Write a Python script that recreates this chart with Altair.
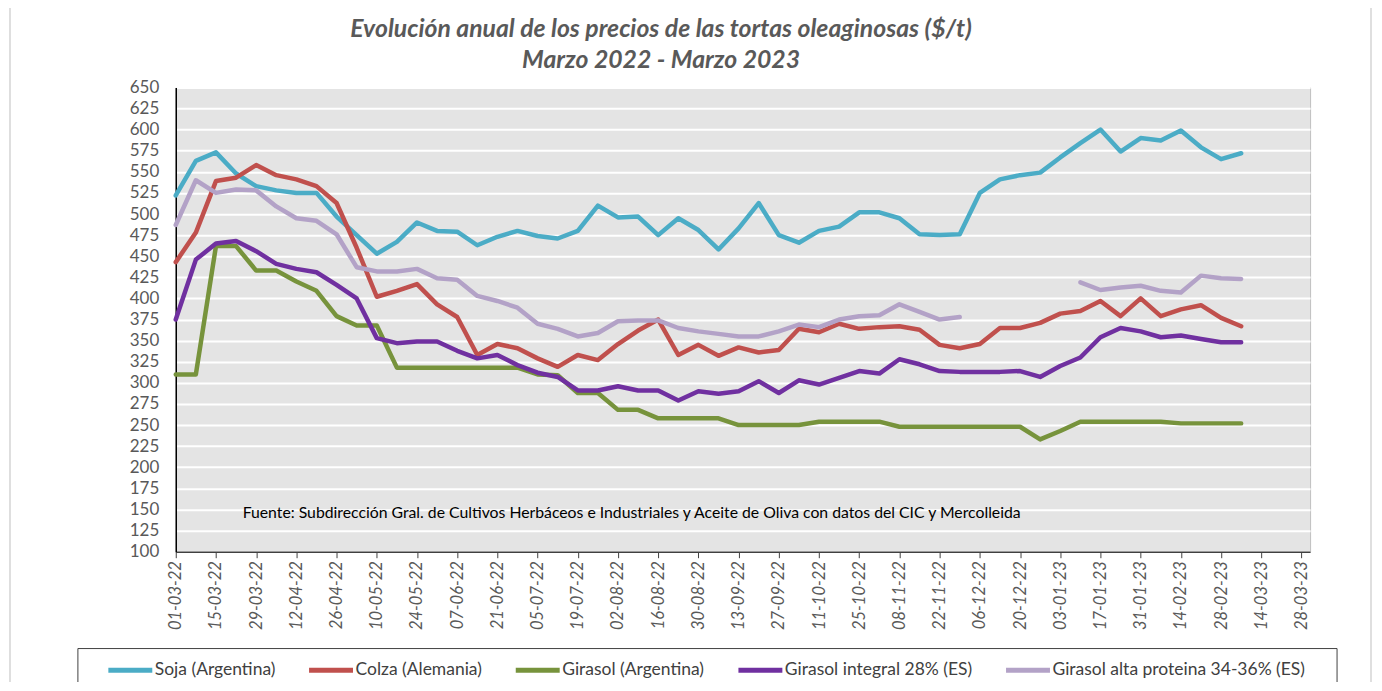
import altair as alt
import pandas as pd

# ---- data (weekly) ----
dates = pd.date_range("2022-03-01", periods=54, freq="7D").strftime("%Y-%m-%d").tolist()

series_names = [
    "Soja (Argentina)",
    "Colza (Alemania)",
    "Girasol (Argentina)",
    "Girasol integral 28% (ES)",
    "Girasol alta proteina 34-36% (ES)",
]
colors = ["#4bacc6", "#c0504d", "#77933c", "#7030a0", "#b3a2c7"]

soja = [522, 563, 573, 548, 533, 528, 525, 525, 497, 475, 453, 467, 490, 480, 479, 463, 473, 480,
        474, 471, 480, 510, 496, 497, 475, 495, 481, 458, 483, 513, 475, 466, 480, 485, 502, 502,
        495, 476, 475, 476, 525, 541, 546, 549, 567, 584, 600, 574, 590, 587, 599, 579, 565, 572]
colza = [443, 478, 539, 543, 558, 546, 541, 533, 513, 460, 402, 409, 417, 393, 378, 333, 346, 341,
         329, 319, 333, 327, 346, 362, 375, 333, 345, 332, 342, 336, 339, 364, 360, 370, 364, 366,
         367, 363, 345, 341, 346, 365, 365, 371, 382, 385, 397, 379, 400, 379, 387, 392, 377, 367]
girasol = [310, 310, 462, 462, 433, 433, 420, 409, 379, 368, 368, 318, 318, 318, 318, 318, 318, 318,
           310, 309, 288, 288, 268, 268, 258, 258, 258, 258, 250, 250, 250, 250, 254, 254, 254, 254,
           248, 248, 248, 248, 248, 248, 248, 233, 243, 254, 254, 254, 254, 254, 252, 252, 252, 252]
integral = [375, 446, 465, 468, 456, 441, 435, 431, 416, 400, 353, 347, 349, 349, 338, 329, 333, 321,
            312, 307, 291, 291, 296, 291, 291, 279, 290, 287, 290, 302, 288, 303, 298, 306, 314, 311,
            328, 322, 314, 313, 313, 313, 314, 307, 320, 330, 354, 365, 361, 354, 356, 352, 348, 348]
alta = [487, 540, 525, 529, 528, 509, 495, 492, 476, 437, 432, 432, 435, 424, 422, 403, 397, 389,
        370, 364, 355, 359, 373, 374, 374, 365, 361, 358, 355, 355, 361, 369, 366, 375, 379, 380,
        393, 384, 375, 378, None, None, None, None, None, 419, 410, 413, 415, 409, 407, 427, 424, 423]

y_ticks = list(range(100, 651, 25))
tick_dates = pd.date_range("2022-03-01", "2023-03-28", freq="14D")

title_lines = ["Evolución anual de los precios de las tortas oleaginosas ($/t)",
               "Marzo 2022 - Marzo 2023"]
footnote = ("Fuente: Subdirección Gral. de Cultivos Herbáceos e Industriales y Aceite de Oliva "
            "con datos del CIC y Mercolleida")

# ---- long table ----
rows = []
for k, (name, vals) in enumerate(zip(series_names, [soja, colza, girasol, integral, alta])):
    seg = 0
    gap = False
    for d, v in zip(dates, vals):
        if v is None:
            gap = True
            continue
        if gap:
            seg += 1
            gap = False
        rows.append({"fecha": d, "precio": v, "serie": name, "tramo": f"{k}-{seg}"})
df = pd.DataFrame(rows)

tick_vals = [alt.DateTime(year=t.year, month=t.month, date=t.day, utc=True) for t in tick_dates]

W, H = 1136, 465

lines = alt.Chart(df).mark_line(strokeWidth=4.5, strokeJoin="round", strokeCap="round").encode(
    x=alt.X(
        "fecha:T",
        scale=alt.Scale(type="utc",
                        domain=[alt.DateTime(year=2022, month=3, date=1, utc=True),
                                alt.DateTime(year=2023, month=3, date=31, utc=True)]),
        axis=alt.Axis(values=tick_vals, format="%d-%m-%y", labelAngle=270, labelFont="Lato",
                      labelFontStyle="italic", labelFontSize=16.5, labelColor="#595959",
                      tickColor="#404040", tickSize=6, domainColor="#404040", domainWidth=1.5,
                      labelPadding=3, grid=False, title=None, labelOverlap=False,
                      labelFlush=False),
    ),
    y=alt.Y(
        "precio:Q",
        scale=alt.Scale(domain=[100, 650], nice=False, zero=False),
        axis=alt.Axis(values=y_ticks, labelFont="Lato", labelFontSize=17, labelColor="#595959",
                      ticks=False, labelPadding=17, domainColor="#000000", domainWidth=1.5,
                      gridColor="#ffffff", gridWidth=2, title=None),
    ),
    color=alt.Color(
        "serie:N",
        scale=alt.Scale(domain=series_names, range=colors),
        legend=alt.Legend(orient="none", legendX=-70, legendY=559, direction="horizontal",
                          title=None, symbolType="stroke", symbolSize=1936,
                          symbolStrokeWidth=5, labelFont="Lato", labelFontSize=17.5,
                          labelColor="#404040", columnPadding=23, labelOffset=0,
                          labelLimit=400, padding=0),
    ),
    detail="tramo:N",
)

note = alt.Chart(pd.DataFrame({"t": [footnote]})).mark_text(
    align="left", baseline="middle", font="Lato", fontSize=15.8, color="#000000"
).encode(text="t:N", x=alt.value(67), y=alt.value(426))

title1 = alt.Chart(pd.DataFrame({"t": [title_lines[0]]})).mark_text(
    align="center", baseline="middle", font="Lato", fontSize=24.8, fontStyle="italic",
    fontWeight="bold", color="#595959"
).encode(text="t:N", x=alt.value(486), y=alt.value(-57))

title2 = alt.Chart(pd.DataFrame({"t": [title_lines[1]]})).mark_text(
    align="center", baseline="middle", font="Lato", fontSize=24.8, fontStyle="italic",
    fontWeight="bold", color="#595959"
).encode(text="t:N", x=alt.value(486), y=alt.value(-26))

legend_box = alt.Chart(pd.DataFrame({"b": [1]})).mark_rect(
    fillOpacity=0, stroke="#404040", strokeWidth=1
).encode(x=alt.value(-98), x2=alt.value(1163), y=alt.value(562), y2=alt.value(598))

outer_box = alt.Chart(pd.DataFrame({"b": [1]})).mark_rect(
    fillOpacity=0, stroke="#bfbfbf", strokeWidth=1
).encode(x=alt.value(-166), x2=alt.value(1197), y=alt.value(-120), y2=alt.value(720))

chart = alt.layer(lines, note, title1, title2, legend_box, outer_box).properties(
    width=W,
    height=H,
    autosize=alt.AutoSizeParams(type="none"),
    padding={"left": 168, "top": 79, "right": 64, "bottom": 130},
).configure_view(fill="#e4e4e4", stroke="#bfbfbf")

chart.save("out.html", embed_options={"renderer": "svg", "actions": False})
